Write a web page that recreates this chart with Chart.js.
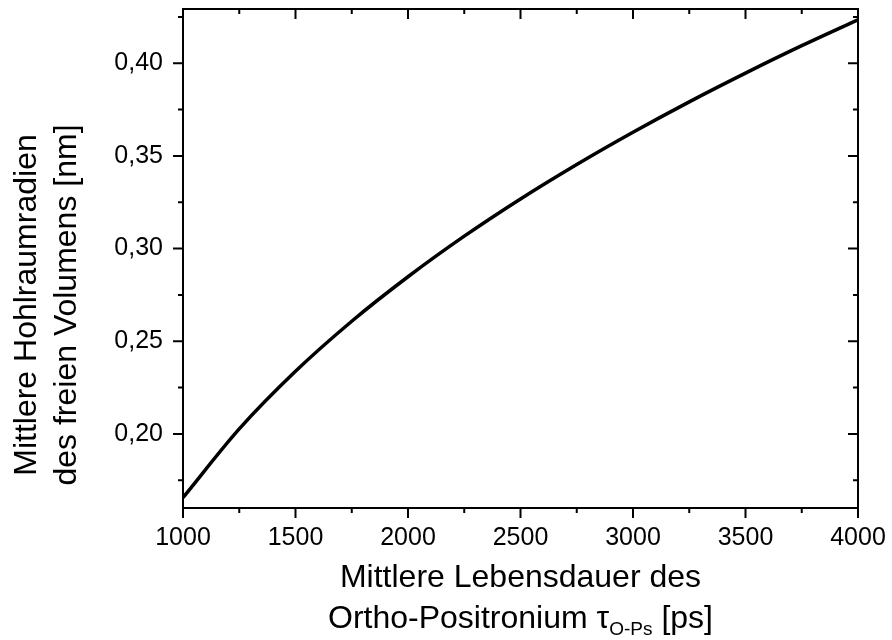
<!DOCTYPE html>
<html>
<head>
<meta charset="utf-8">
<script src="https://cdn.jsdelivr.net/npm/chart.js@4.4.1/dist/chart.umd.min.js"></script>
<style>
  html, body { margin: 0; padding: 0; background: #fff; }
  #wrap { width: 892px; height: 640px; }
</style>
</head>
<body>
<div id="wrap"><canvas id="c" width="892" height="640"></canvas></div>
<script>
// Lifetime of ortho-positronium [ps]
const lifetimes = [1000, 1250, 1500, 1750, 2000, 2250, 2500, 2750, 3000, 3250, 3500, 3750, 4000];
// Mean free-volume hole radius [nm]
const radii = [0.1656, 0.2027, 0.2338, 0.2608, 0.2848, 0.3067, 0.3268, 0.3454, 0.3628, 0.3792, 0.3947, 0.4095, 0.4235];

const xMajorTicks = [1000, 1500, 2000, 2500, 3000, 3500, 4000];
const xMinorTicks = [1250, 1750, 2250, 2750, 3250, 3750];
const yMajorTicks = [0.20, 0.25, 0.30, 0.35, 0.40];
const yMinorTicks = [0.175, 0.225, 0.275, 0.325, 0.375, 0.425];

const xTitle1 = 'Mittlere Lebensdauer des';
const xTitle2a = 'Ortho-Positronium ';
const xTitleTau = 'τ';
const xTitleSub = 'O-Ps';
const xTitle2b = ' [ps]';
const yTitle1 = 'Mittlere Hohlraumradien';
const yTitle2 = 'des freien Volumens [nm]';

const FONT = '"Liberation Sans", Arial, Helvetica, sans-serif';
const TITLE_SIZE = 32;

const framePlugin = {
  id: 'originFrame',
  afterDatasetsDraw(chart) {
    const ctx = chart.ctx;
    const a = chart.chartArea;
    const xs = chart.scales.x, ys = chart.scales.y;
    ctx.save();
    ctx.strokeStyle = '#000';
    ctx.lineWidth = 2;
    ctx.lineCap = 'butt';
    ctx.strokeRect(a.left, a.top, a.right - a.left, a.bottom - a.top);
    const MAJ = 10, MIN = 5;
    ctx.beginPath();
    const xt = (v, len) => {
      const p = xs.getPixelForValue(v);
      ctx.moveTo(p, a.bottom); ctx.lineTo(p, a.bottom + len);
      ctx.moveTo(p, a.top); ctx.lineTo(p, a.top + len);
    };
    const yt = (v, len) => {
      const p = ys.getPixelForValue(v);
      ctx.moveTo(a.left, p); ctx.lineTo(a.left - len, p);
      ctx.moveTo(a.right, p); ctx.lineTo(a.right - len, p);
    };
    xMajorTicks.forEach(v => xt(v, MAJ));
    xMinorTicks.forEach(v => xt(v, MIN));
    yMajorTicks.forEach(v => yt(v, MAJ));
    yMinorTicks.forEach(v => yt(v, MIN));
    ctx.stroke();

    // axis titles
    ctx.fillStyle = '#000';
    ctx.textBaseline = 'alphabetic';
    const cx = (a.left + a.right) / 2;
    const mainFont = TITLE_SIZE + 'px ' + FONT;
    const subFont = '19px ' + FONT;
    ctx.font = mainFont;
    ctx.textAlign = 'center';
    ctx.fillText(xTitle1, cx, 587);
    ctx.font = mainFont;
    const wA = ctx.measureText(xTitle2a).width;
    const wT = ctx.measureText(xTitleTau).width;
    const wB = ctx.measureText(xTitle2b).width;
    ctx.font = subFont;
    const wS = ctx.measureText(xTitleSub).width;
    const total = wA + wT + wS + wB;
    let x0 = cx - total / 2;
    const base2 = 628;
    ctx.textAlign = 'left';
    ctx.font = mainFont;
    ctx.fillText(xTitle2a, x0, base2); x0 += wA;
    ctx.fillText(xTitleTau, x0, base2); x0 += wT;
    ctx.font = subFont;
    ctx.fillText(xTitleSub, x0, base2 + 7); x0 += wS;
    ctx.font = mainFont;
    ctx.fillText(xTitle2b, x0, base2);

    // y title (rotated)
    ctx.save();
    ctx.translate(0, 305);
    ctx.rotate(-Math.PI / 2);
    ctx.textAlign = 'center';
    ctx.font = mainFont;
    ctx.fillText(yTitle1, 0, 36);
    ctx.fillText(yTitle2, 0, 76);
    ctx.restore();
    ctx.restore();
  }
};

new Chart(document.getElementById('c'), {
  type: 'line',
  data: {
    datasets: [{
      data: lifetimes.map((x, i) => ({ x: x, y: radii[i] })),
      borderColor: '#000',
      borderWidth: 3.5,
      pointRadius: 0,
      fill: false,
      cubicInterpolationMode: 'monotone'
    }]
  },
  options: {
    responsive: false,
    animation: false,
    devicePixelRatio: 1,
    layout: { padding: { top: 9, right: 34, left: 0, bottom: 0 } },
    plugins: { legend: { display: false }, tooltip: { enabled: false } },
    scales: {
      x: {
        type: 'linear',
        min: 1000, max: 4000,
        afterBuildTicks: s => { s.ticks = xMajorTicks.map(v => ({ value: v })); },
        afterFit: s => { s.height = 132; s.paddingLeft = 0; s.paddingRight = 0; },
        grid: { display: false, drawTicks: false },
        border: { display: false },
        ticks: {
          color: '#000', padding: 15, maxRotation: 0, autoSkip: false,
          font: { family: FONT, size: 25 },
          callback: v => String(v)
        }
      },
      y: {
        type: 'linear',
        min: 0.16, max: 0.4293,
        afterBuildTicks: s => { s.ticks = yMajorTicks.map(v => ({ value: v })); },
        afterFit: s => { s.width = 183; s.paddingTop = 0; s.paddingBottom = 0; },
        grid: { display: false, drawTicks: false },
        border: { display: false },
        ticks: {
          color: '#000', padding: 20,
          font: { family: FONT, size: 25 },
          callback: v => v.toFixed(2).replace('.', ',')
        }
      }
    }
  },
  plugins: [framePlugin]
});
</script>
</body>
</html>
